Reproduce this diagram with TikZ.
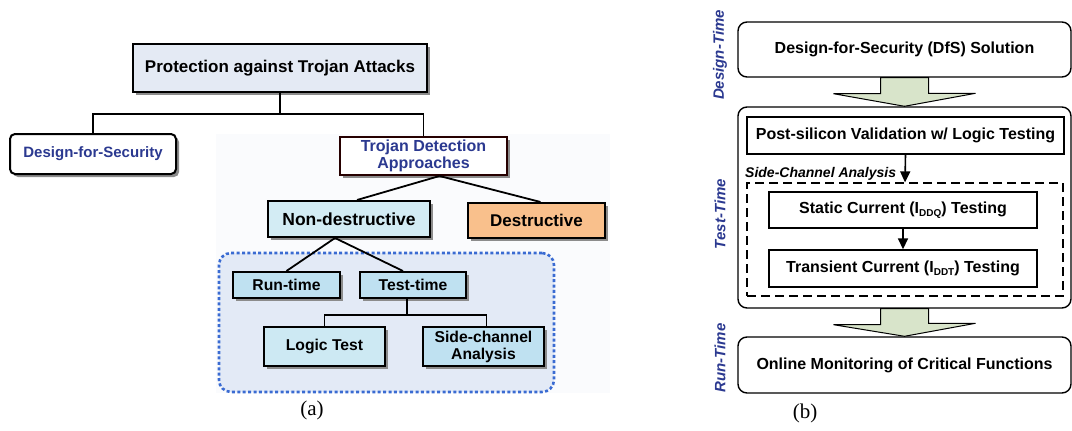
\documentclass[tikz,border=0pt]{standalone}
\usepackage{fontspec}
\setmainfont{Liberation Sans}
\newfontfamily\serifcap{Liberation Serif}
\usetikzlibrary{shadows,arrows.meta}
\definecolor{navy}{HTML}{2B3990}
\definecolor{titlefill}{HTML}{E4EAF4}
\definecolor{imgbg}{HTML}{FAFBFD}
\definecolor{ndfill}{HTML}{D3ECF4}
\definecolor{rtfill}{HTML}{BFE1F1}
\definecolor{ltfill}{HTML}{CDE9F3}
\definecolor{desfill}{HTML}{F9C08C}
\definecolor{regfill}{HTML}{E3EAF6}
\definecolor{regdraw}{HTML}{3A6BD2}
\definecolor{arrowfill}{HTML}{D8E4CA}
\newcommand{\lowsub}[1]{\raisebox{-2.5pt}{\fontsize{10}{10}\selectfont #1}}
\begin{document}
\begin{tikzpicture}[x=1pt, y=-1pt, >={Triangle[length=11pt,width=10pt]}]
\tikzstyle{every node}=[inner sep=0pt, font=\bfseries\fontsize{16}{18}\selectfont]
\tikzstyle{abox}=[draw, line width=2pt, drop shadow={shadow xshift=3pt, shadow yshift=-3pt, fill=black!45, opacity=1}]
\tikzstyle{rbox}=[draw, line width=1.4pt, rounded corners=9pt, minimum width=333pt]
\tikzstyle{sbox}=[draw, line width=1.4pt]
\tikzstyle{phase}=[rotate=90, text=navy, font=\bfseries\itshape\fontsize{15}{17}\selectfont]
\tikzstyle{bigarrow}=[draw, line width=1pt, fill=arrowfill]
\tikzstyle{captext}=[font=\serifcap\fontsize{21}{24}\selectfont]
\useasboundingbox (0,0) rectangle (1072,431);
%
% (a)
\fill[imgbg] (216,134) rectangle (610,393);
\node[abox, fill=titlefill, minimum width=294pt, minimum height=48pt, font=\bfseries\fontsize{17}{19}\selectfont] (pta) at (280,68) {Protection against Trojan Attacks};
\node[abox, fill=white, rounded corners=5pt, text=navy, minimum width=166pt, minimum height=40pt, font=\bfseries\fontsize{15}{17}\selectfont] (dfs) at (93,154) {Design-for-Security};
\node[abox, fill=white, draw=black!85!red, text=navy, minimum width=167pt, minimum height=38pt, align=center, font=\bfseries\fontsize{16}{17}\selectfont] (tda) at (423.5,156) {Trojan Detection\\Approaches};
\node[abox, fill=ndfill, minimum width=162pt, minimum height=36pt, font=\bfseries\fontsize{17.5}{19}\selectfont] (nd) at (349,219) {Non-destructive};
\node[abox, fill=desfill, minimum width=137pt, minimum height=35pt, font=\bfseries\fontsize{17}{19}\selectfont] (des) at (536.5,220.5) {Destructive};
\node[draw=regdraw, fill=regfill, rounded corners=12pt, line width=2.6pt, dash pattern=on 3pt off 2.4pt, minimum width=335pt, minimum height=139pt] (ndreg) at (386.5,322.5) {};
\node[abox, fill=rtfill, minimum width=107pt, minimum height=26pt, font=\bfseries\fontsize{15.7}{17}\selectfont] (rt) at (286.5,285) {Run-time};
\node[abox, fill=rtfill, minimum width=106pt, minimum height=26pt, font=\bfseries\fontsize{15.7}{17}\selectfont] (tt) at (413,285) {Test-time};
\node[abox, fill=ltfill, minimum width=121pt, minimum height=39pt, font=\bfseries\fontsize{15.7}{17}\selectfont] (lt) at (324.5,346.5) {Logic Test};
\node[abox, fill=rtfill, minimum width=121pt, minimum height=39pt, align=center, font=\bfseries\fontsize{15.7}{17}\selectfont] (sca) at (483.5,346.5) {Side-channel\\Analysis};
%
\draw[line width=1.8pt] (pta.south) -- +(0,21) -| (dfs.north);
\draw[line width=1.8pt] (pta.south) -- +(0,21) -| (tda.north);
\draw[line width=1.8pt] ([xshift=16pt]tda.south) -- ([xshift=8pt]nd.north);
\draw[line width=1.8pt] ([xshift=16pt]tda.south) -- ([xshift=4pt]des.north);
\draw[line width=1.8pt] ([xshift=-14pt]nd.south) -- (rt.north);
\draw[line width=1.8pt] ([xshift=-14pt]nd.south) -- ([xshift=-10pt]tt.north);
\draw[line width=1.8pt] ([xshift=-6pt]tt.south) -- +(0,16) -| (lt.north);
\draw[line width=1.8pt] ([xshift=-6pt]tt.south) -- +(0,16) -| ([xshift=3pt]sca.north);
\node[captext] (capa) at (312,410) {(a)};
%
% (b)
\node[phase] (lbldt) at (720,55) {Design-Time};
\node[phase] (lbltt) at (720,214) {Test-Time};
\node[phase] (lblrt) at (720,358) {Run-Time};
\node[rbox, minimum height=55pt] (dfsb) at (904.5,49.5) {Design-for-Security (DfS) Solution};
\node[rbox, minimum height=201pt] (ttbox) at (904.5,207.5) {};
\node[sbox, minimum width=317pt, minimum height=37pt] (psv) at (905.5,135.5) {Post-silicon Validation w/ Logic Testing};
\node[draw, line width=1.3pt, dash pattern=on 9pt off 5pt, minimum width=316pt, minimum height=113pt] (scabox) at (905,239.5) {};
\node[anchor=west, font=\bfseries\itshape\fontsize{14}{16}\selectfont] (scalbl) at (745,174) {Side-Channel Analysis};
\node[sbox, minimum width=268pt, minimum height=36pt] (static) at (903,210) {Static Current (I\lowsub{DDQ}) Testing};
\node[sbox, minimum width=268pt, minimum height=37pt] (trans) at (903,268.5) {Transient Current (I\lowsub{DDT}) Testing};
\node[rbox, minimum height=56pt] (omf) at (904.5,365) {Online Monitoring of Critical Functions};
%
\draw[bigarrow] ([xshift=-24pt]dfsb.south) -- ++(0,16) -- ++(-47,0) -- (ttbox.north) -- ++(71,-13) -- ++(-47,0) -- ([xshift=24pt]dfsb.south) -- cycle;
\draw[bigarrow] ([xshift=-24pt]ttbox.south) -- ++(0,16) -- ++(-47,0) -- (omf.north) -- ++(71,-13) -- ++(-47,0) -- ([xshift=24pt]ttbox.south) -- cycle;
\draw[->, line width=1.6pt] (psv.south) -- (scabox.north);
\draw[->, line width=1.6pt] (static.south) -- (trans.north);
\node[captext] (capb) at (805,413) {(b)};
\end{tikzpicture}
\end{document}
